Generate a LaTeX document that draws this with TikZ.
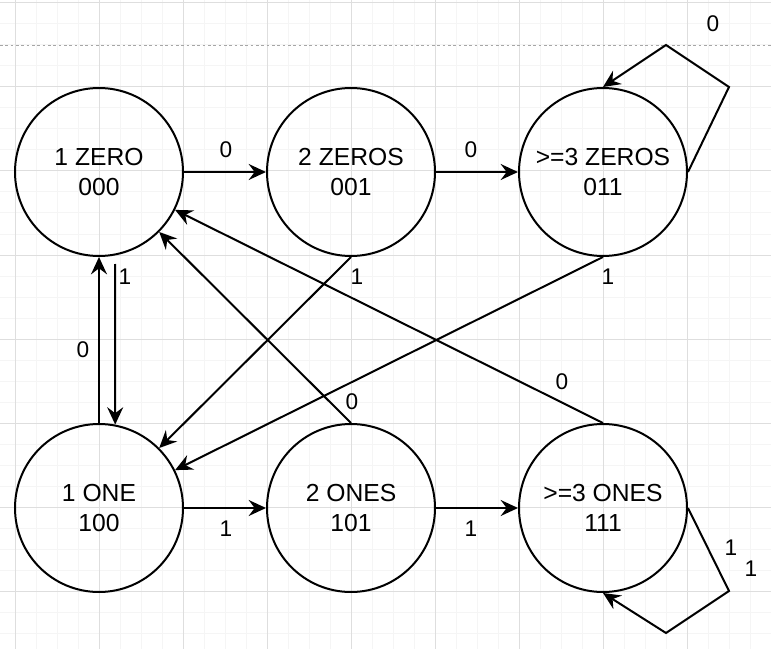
\documentclass[tikz,border=0pt]{standalone}
\usepackage{fontspec}
\setmainfont{Liberation Sans}
\usetikzlibrary{arrows.meta,calc}
\begin{document}
\begin{tikzpicture}[x=0.75pt,y=-0.75pt,
  statenode/.style={circle,draw,line width=1.5pt,minimum size=126pt,inner sep=0pt,align=center,
    font=\fontsize{18.5pt}{22.5pt}\selectfont},
  arr/.style={-{Stealth[length=13pt,width=12pt,inset=4.5pt]},line width=1.5pt},
  lbl/.style={inner sep=0pt,font=\fontsize{17pt}{20pt}\selectfont},
  minorgrid/.style={line width=0.75pt,color=black!4},
  majorgrid/.style={line width=0.75pt,color=black!13},
  pageline/.style={line width=0.75pt,color=black!35,dash pattern=on 2pt off 2pt}]
\useasboundingbox (0,0) rectangle (771,649);
\fill[white] (0,0) rectangle (771,649);
% grid
\foreach \i in {0,...,37} {\draw[minorgrid] (-6+21*\i,0) -- (-6+21*\i,649);}
\foreach \i in {0,...,31} {\draw[minorgrid] (0,3+21*\i) -- (771,3+21*\i);}
\foreach \i in {0,...,9} {\draw[majorgrid] (15+84*\i,0) -- (15+84*\i,649);}
\foreach \i in {0,...,7} {\draw[majorgrid] (0,3+84*\i) -- (771,3+84*\i);}
\draw[pageline] (0,46) -- (771,46);
% states
\node[statenode] (z1) at (99,172) {1 ZERO\\000};
\node[statenode] (z2) at (351,172) {2 ZEROS\\001};
\node[statenode] (z3) at (603,172) {>=3 ZEROS\\011};
\node[statenode] (o1) at (99,508) {1 ONE\\100};
\node[statenode] (o2) at (351,508) {2 ONES\\101};
\node[statenode] (o3) at (603,508) {>=3 ONES\\111};
% loop corners
\coordinate (ta) at (729,87);
\coordinate (tb) at (666,45);
\coordinate (ba) at (729,591);
\coordinate (bb) at (666,633);
% edges
\draw[arr] (z1) -- (z2);
\draw[arr] (z2) -- (z3);
\draw[arr] (o1) -- (o2);
\draw[arr] (o2) -- (o3);
\draw[arr] (z3.east) -- (ta) -- (tb) -- (z3.north);
\draw[arr] (o3.east) -- (ba) -- (bb) -- (o3.south);
\draw[arr] (o1) -- (z1);
\draw[arr] ([shift={(16,7)}]z1.south) -- (o1.79);
\draw[arr] (z2.south) -- (o1);
\draw[arr] (z3.south) -- (o1);
\draw[arr] (o2.north) -- (z1);
\draw[arr] (o3.north) -- (z1);
% labels
\node[lbl] (l1) at (226,150) {0};
\node[lbl] (l2) at (471,150) {0};
\node[lbl] (l3) at (713,24) {0};
\node[lbl] (l4) at (226,529) {1};
\node[lbl] (l5) at (471,529) {1};
\node[lbl] (l6) at (731,548) {1};
\node[lbl] (l7) at (751,569) {1};
\node[lbl] (l8) at (125,277) {1};
\node[lbl] (l9) at (83,350) {0};
\node[lbl] (l10) at (357,277) {1};
\node[lbl] (l11) at (352,402) {0};
\node[lbl] (l12) at (608,277) {1};
\node[lbl] (l13) at (562,382) {0};
\end{tikzpicture}
\end{document}
